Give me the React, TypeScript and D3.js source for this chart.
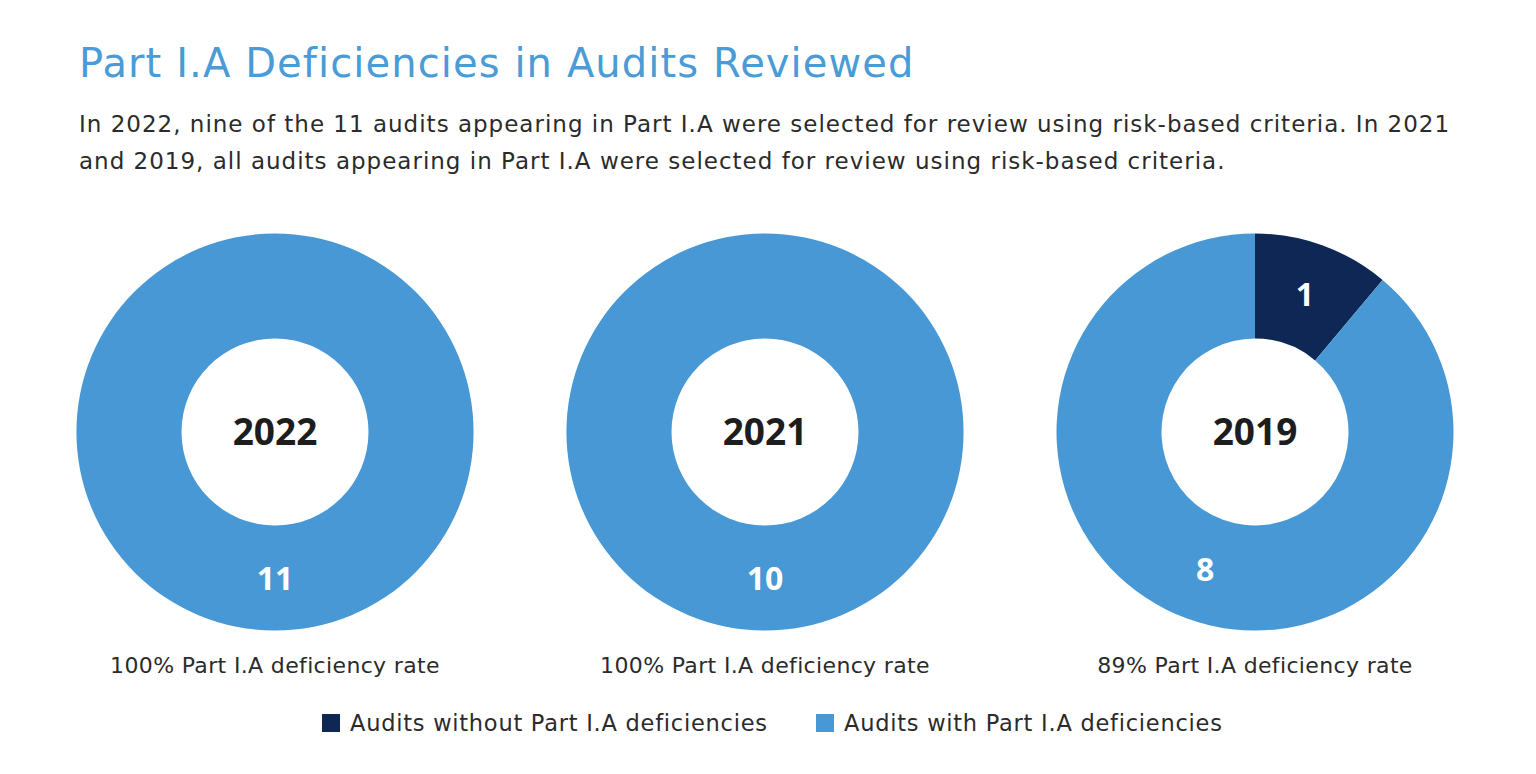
import React from 'react';
import * as d3 from 'd3';

const years = ['2022', '2021', '2019'];
const auditsWithout = [0, 0, 1];
const auditsWith = [11, 10, 8];
const rateLabels = [
  '100% Part I.A deficiency rate',
  '100% Part I.A deficiency rate',
  '89% Part I.A deficiency rate',
];
const seriesNames = ['Audits without Part I.A deficiencies', 'Audits with Part I.A deficiencies'];
const seriesColors = ['#0E2754', '#4798D5'];
const titleText = 'Part I.A Deficiencies in Audits Reviewed';
const subtitleLines = [
  'In 2022, nine of the 11 audits appearing in Part I.A were selected for review using risk-based criteria. In 2021',
  'and 2019, all audits appearing in Part I.A were selected for review using risk-based criteria.',
];

const W = 1536;
const H = 774;
const FONT = "'DejaVu Sans', 'Open Sans', sans-serif";
const BOLD_FONT = "'Open Sans', 'DejaVu Sans', sans-serif";

export default function App() {
  const x = d3.scalePoint<string>().domain(years).range([275, 1255]);
  const cy = 432;
  const outerR = 198.5;
  const innerR = 93.5;
  const pie = d3.pie<number>().sort(null).value((d) => d);
  const arc = d3.arc<d3.PieArcDatum<number>>().innerRadius(innerR).outerRadius(outerR);
  const labelArc = d3.arc<d3.PieArcDatum<number>>().innerRadius(innerR).outerRadius(outerR);

  return (
    <svg width={W} height={H} style={{ position: 'absolute', left: 0, top: 0, background: '#fff' }} fontFamily={FONT}>
      <text x={79} y={77} fontSize={40} letterSpacing={1.1} fill="#4A9BD6" fontWeight={400}>{titleText}</text>
      {subtitleLines.map((l, i) => (
        <text key={i} x={79} y={132 + i * 37} fontSize={23} letterSpacing={1.0} fill="#2b2b2b">{l}</text>
      ))}
      {years.map((yr, i) => {
        const arcs = pie([auditsWithout[i], auditsWith[i]]);
        const cx = x(yr) as number;
        return (
          <g key={yr} transform={`translate(${cx},${cy})`}>
            {arcs.map((a, j) => (
              <path key={j} d={arc(a) || ''} fill={seriesColors[j]} />
            ))}
            {arcs.map((a, j) => {
              if (a.value === 0) return null;
              const [lx, ly] = labelArc.centroid(a);
              return (
                <text key={'l' + j} x={lx} y={ly} dy="0.36em" textAnchor="middle" fill="#fff" fontWeight={700} fontSize={32} fontFamily={BOLD_FONT}>
                  {a.value}
                </text>
              );
            })}
            <text x={0} y={0} dy="0.36em" textAnchor="middle" fontWeight={700} fontSize={37} fill="#1d1d1d" fontFamily={BOLD_FONT}>{yr}</text>
            <text x={0} y={233} dy="0.36em" textAnchor="middle" fontSize={22} letterSpacing={0.35} fill="#2b2b2b">{rateLabels[i]}</text>
          </g>
        );
      })}
      {(() => {
        const items = [
          { x: 322, label: seriesNames[0], color: seriesColors[0] },
          { x: 816, label: seriesNames[1], color: seriesColors[1] },
        ];
        return items.map((it, k) => (
          <g key={k}>
            <rect x={it.x} y={714} width={18} height={18} fill={it.color} />
            <text x={it.x + 28} y={723} dy="0.36em" fontSize={22.5} letterSpacing={0.75} fill="#2b2b2b">{it.label}</text>
          </g>
        ));
      })()}
    </svg>
  );
}
